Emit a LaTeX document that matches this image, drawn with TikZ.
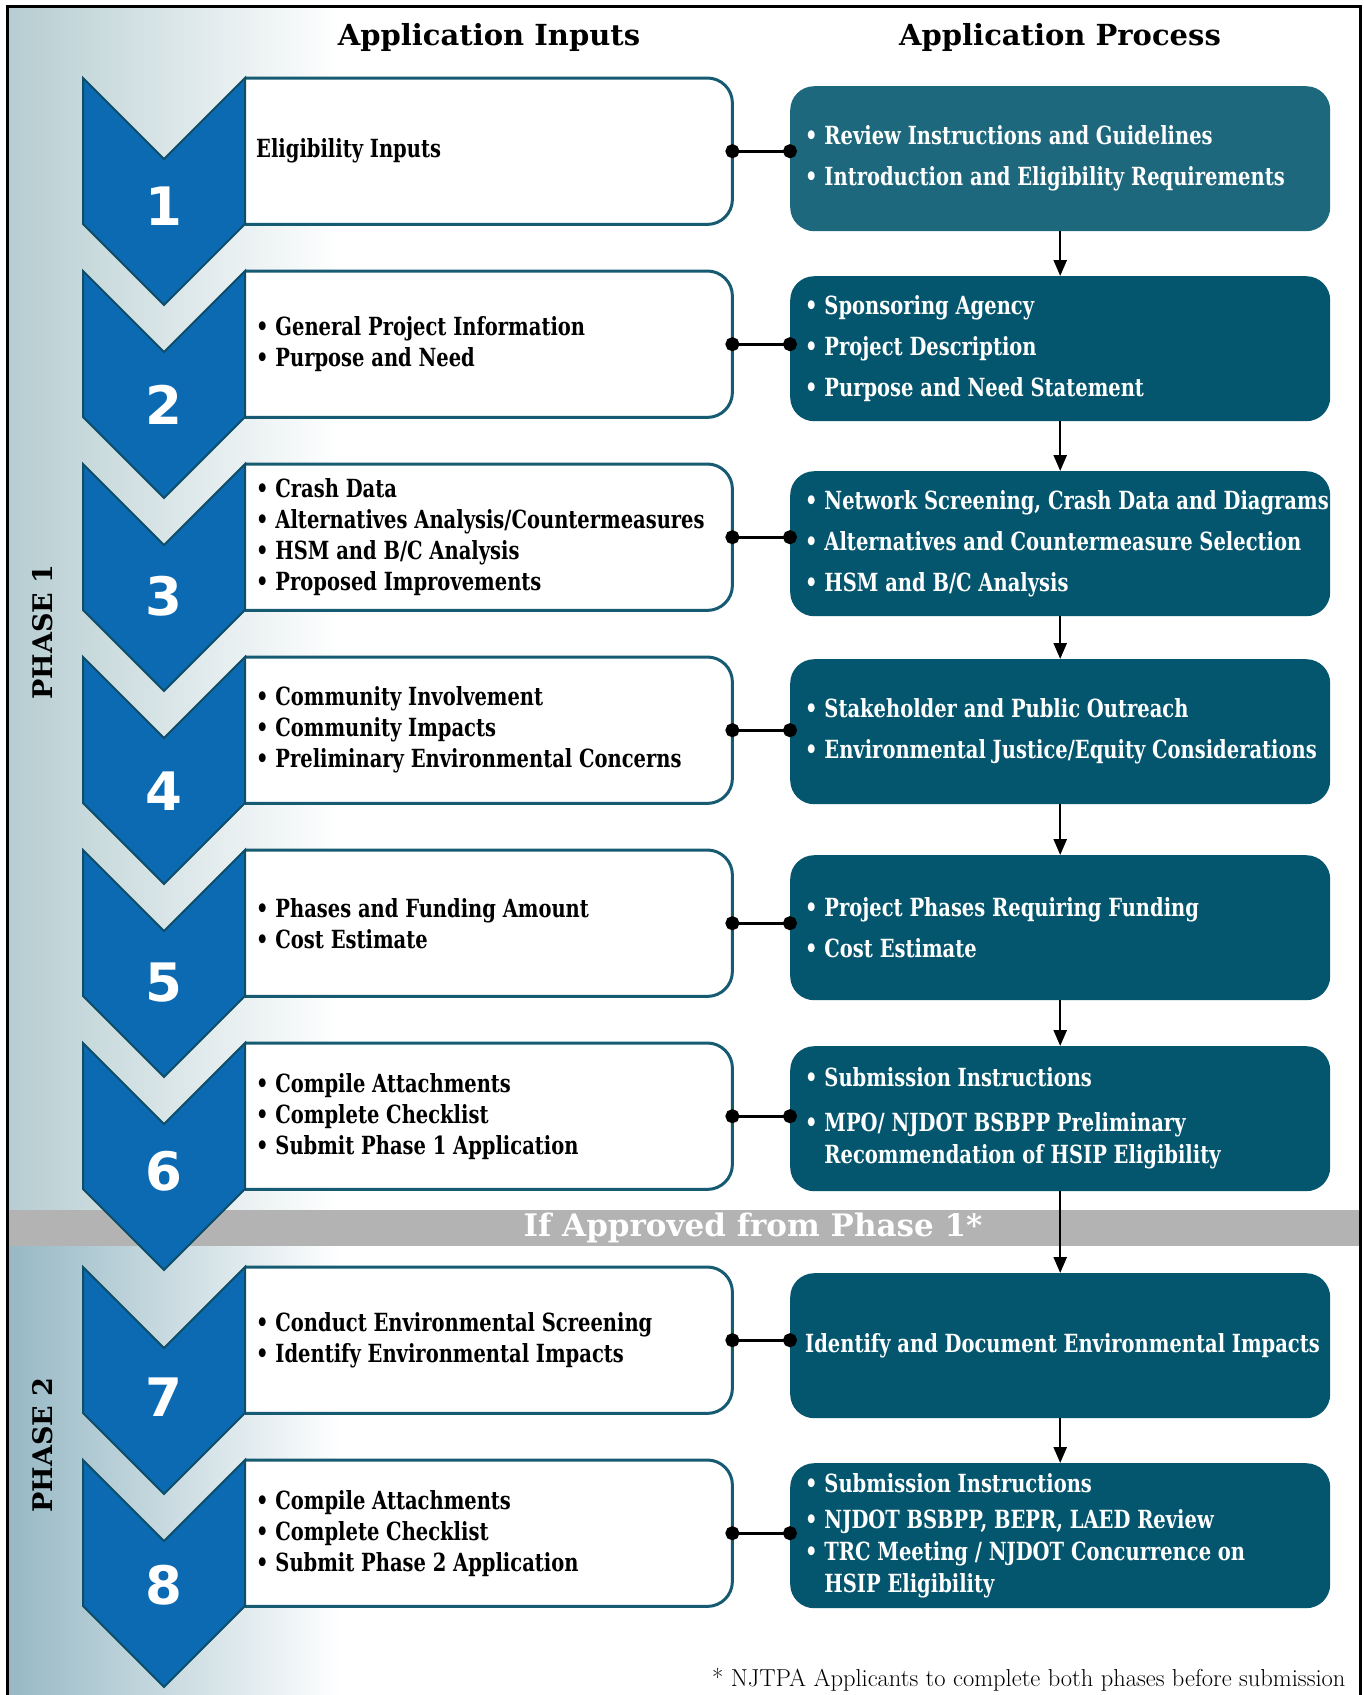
\documentclass[tikz,border=0pt]{standalone}
\usepackage{fontspec}
\usepackage{tikz}
\usetikzlibrary{arrows.meta}
\usetikzlibrary{positioning,calc}
\newfontfamily\slabfont{DejaVu Serif}[FakeStretch=0.78]
\newfontfamily\headfont{DejaVu Serif}
\newfontfamily\numfont{DejaVu Sans}
\usepackage{xcolor}
\definecolor{chevblue}{RGB}{11,106,178}
\definecolor{chevline}{RGB}{14,78,104}
\definecolor{boxline}{RGB}{22,91,113}
\definecolor{procfill}{RGB}{4,86,110}
\definecolor{proclight}{RGB}{30,104,125}
\definecolor{bandgray}{RGB}{179,179,179}
\definecolor{phaseone}{RGB}{182,205,209}
\definecolor{phasetwo}{RGB}{150,184,196}
\tikzset{
    inbox/.style={
        rectangle,
        minimum width=487pt,
        minimum height=146pt,
        inner sep=0pt,
        anchor=north west
    },
    inline/.style={
        draw=boxline,
        line width=3pt,
        fill=white,
        rounded corners=25pt
    },
    intext/.style={
        anchor=west,
        align=left,
        inner sep=0pt,
        font=\slabfont\bfseries\fontsize{25}{31}\selectfont
    },
    outbox/.style={
        rectangle,
        rounded corners=24pt,
        fill=procfill,
        minimum width=540pt,
        minimum height=145pt,
        inner sep=0pt,
        anchor=north west
    },
    outtext/.style={
        anchor=west,
        align=left,
        inner sep=0pt,
        text=white,
        font=\slabfont\bfseries\fontsize{25}{32}\selectfont
    },
    chevron/.style={
        fill=chevblue,
        draw=chevline,
        line width=2pt
    },
    stepnum/.style={
        text=white,
        font=\numfont\bfseries\fontsize{53}{53}\selectfont
    },
    link/.style={
        line width=3pt,
        {Circle[length=14pt]}-{Circle[length=14pt]},
        shorten <=-7pt,
        shorten >=-7pt
    },
    flow/.style={
        line width=2.5pt,
        -{Triangle[length=16pt, width=13pt]}
    },
    headtext/.style={
        font=\headfont\bfseries\fontsize{29}{29}\selectfont
    },
    phasetext/.style={
        rotate=90,
        font=\headfont\bfseries\fontsize{27}{27}\selectfont
    },
    bandtext/.style={
        text=white,
        font=\headfont\bfseries\fontsize{31}{31}\selectfont
    }
}
\newcommand{\wrapind}{\hphantom{\textbullet\ }}

\begin{document}
\begin{tikzpicture}[x=1pt, y=-1pt]
  \useasboundingbox (0,0) rectangle (1364,1695);

  % Background of the two phases
  \shade[left color=phaseone, right color=white] (7,6) rectangle (340,1210);
  \shade[left color=phasetwo, right color=white] (7,1246) rectangle (340,1695);
  \fill[bandgray] (7,1210) rectangle (1360,1246);
  \node[bandtext] (approved) at (753,1228) {If Approved from Phase 1*};
  \draw[line width=3pt] (7,1700) -- (7,6) -- (1360,6) -- (1360,1700);

  % Column titles
  \node[headtext] (inhead) at (489,37) {Application Inputs};
  \node[headtext] (outhead) at (1060,37) {Application Process};

  % Application inputs
  \node[inbox] (in1) at (245,78) {};
  \node[inbox] (in2) at (245,271) {};
  \node[inbox] (in3) at (245,464) {};
  \node[inbox] (in4) at (245,657) {};
  \node[inbox] (in5) at (245,850) {};
  \node[inbox] (in6) at (245,1043) {};
  \node[inbox] (in7) at (245,1267) {};
  \node[inbox] (in8) at (245,1460) {};
  \path[inline] (in1.north west) -- (in1.north east) -- (in1.south east) -- (in1.south west);
  \path[inline] (in2.north west) -- (in2.north east) -- (in2.south east) -- (in2.south west);
  \path[inline] (in3.north west) -- (in3.north east) -- (in3.south east) -- (in3.south west);
  \path[inline] (in4.north west) -- (in4.north east) -- (in4.south east) -- (in4.south west);
  \path[inline] (in5.north west) -- (in5.north east) -- (in5.south east) -- (in5.south west);
  \path[inline] (in6.north west) -- (in6.north east) -- (in6.south east) -- (in6.south west);
  \path[inline] (in7.north west) -- (in7.north east) -- (in7.south east) -- (in7.south west);
  \path[inline] (in8.north west) -- (in8.north east) -- (in8.south east) -- (in8.south west);

  \node[intext] (in1t) at ([xshift=11pt]in1.west) {Eligibility Inputs};
  \node[intext] (in2t) at ([xshift=11pt]in2.west) {\textbullet\ General Project Information\\\textbullet\ Purpose and Need};
  \node[intext] (in3t) at ([xshift=11pt]in3.west) {\textbullet\ Crash Data\\\textbullet\ Alternatives Analysis/Countermeasures\\\textbullet\ HSM and B/C Analysis\\\textbullet\ Proposed Improvements};
  \node[intext] (in4t) at ([xshift=11pt]in4.west) {\textbullet\ Community Involvement\\\textbullet\ Community Impacts\\\textbullet\ Preliminary Environmental Concerns};
  \node[intext] (in5t) at ([xshift=11pt]in5.west) {\textbullet\ Phases and Funding Amount\\\textbullet\ Cost Estimate};
  \node[intext] (in6t) at ([xshift=11pt]in6.west) {\textbullet\ Compile Attachments\\\textbullet\ Complete Checklist\\\textbullet\ Submit Phase 1 Application};
  \node[intext] (in7t) at ([xshift=11pt]in7.west) {\textbullet\ Conduct Environmental Screening\\\textbullet\ Identify Environmental Impacts};
  \node[intext] (in8t) at ([xshift=11pt]in8.west) {\textbullet\ Compile Attachments\\\textbullet\ Complete Checklist\\\textbullet\ Submit Phase 2 Application};

  % Step chevrons
  \draw[chevron] (83,78) -- (164,159) -- (245,78) -- (245,224) -- (164,305) -- (83,224) -- cycle;
  \draw[chevron] (83,271) -- (164,352) -- (245,271) -- (245,417) -- (164,498) -- (83,417) -- cycle;
  \draw[chevron] (83,464) -- (164,545) -- (245,464) -- (245,610) -- (164,691) -- (83,610) -- cycle;
  \draw[chevron] (83,657) -- (164,738) -- (245,657) -- (245,803) -- (164,884) -- (83,803) -- cycle;
  \draw[chevron] (83,850) -- (164,931) -- (245,850) -- (245,996) -- (164,1077) -- (83,996) -- cycle;
  \draw[chevron] (83,1043) -- (164,1124) -- (245,1043) -- (245,1189) -- (164,1270) -- (83,1189) -- cycle;
  \draw[chevron] (83,1267) -- (164,1348) -- (245,1267) -- (245,1413) -- (164,1494) -- (83,1413) -- cycle;
  \draw[chevron] (83,1460) -- (164,1541) -- (245,1460) -- (245,1606) -- (164,1687) -- (83,1606) -- cycle;
  \node[stepnum] (n1) at (164,206) {1};
  \node[stepnum] (n2) at (164,405) {2};
  \node[stepnum] (n3) at (164,596) {3};
  \node[stepnum] (n4) at (164,791) {4};
  \node[stepnum] (n5) at (164,983) {5};
  \node[stepnum] (n6) at (164,1171) {6};
  \node[stepnum] (n7) at (164,1397) {7};
  \node[stepnum] (n8) at (164,1585) {8};

  % Application process
  \node[outbox, fill=proclight] (out1) at (790,86) {};
  \node[outbox] (out2) at (790,276) {};
  \node[outbox] (out3) at (790,471) {};
  \node[outbox] (out4) at (790,659) {};
  \node[outbox] (out5) at (790,855) {};
  \node[outbox] (out6) at (790,1046) {};
  \node[outbox] (out7) at (790,1273) {};
  \node[outbox] (out8) at (790,1463) {};

  \node[outtext] (out1t) at ([xshift=15pt]out1.west) {\textbullet\ Review Instructions and Guidelines\\[9pt]\textbullet\ Introduction and Eligibility Requirements};
  \node[outtext] (out2t) at ([xshift=15pt]out2.west) {\textbullet\ Sponsoring Agency\\[9pt]\textbullet\ Project Description\\[9pt]\textbullet\ Purpose and Need Statement};
  \node[outtext] (out3t) at ([xshift=15pt]out3.west) {\textbullet\ Network Screening, Crash Data and Diagrams\\[9pt]\textbullet\ Alternatives and Countermeasure Selection\\[9pt]\textbullet\ HSM and B/C Analysis};
  \node[outtext] (out4t) at ([xshift=15pt]out4.west) {\textbullet\ Stakeholder and Public Outreach\\[9pt]\textbullet\ Environmental Justice/Equity Considerations};
  \node[outtext] (out5t) at ([xshift=15pt]out5.west) {\textbullet\ Project Phases Requiring Funding\\[9pt]\textbullet\ Cost Estimate};
  \node[outtext] (out6t) at ([xshift=15pt]out6.west) {\textbullet\ Submission Instructions\\[13pt]\textbullet\ MPO/ NJDOT BSBPP Preliminary\\\wrapind Recommendation of HSIP Eligibility};
  \node[outtext] (out7t) at ([xshift=15pt]out7.west) {Identify and Document Environmental Impacts};
  \node[outtext] (out8t) at ([xshift=15pt]out8.west) {\textbullet\ Submission Instructions\\[4pt]\textbullet\ NJDOT BSBPP, BEPR, LAED Review\\\textbullet\ TRC Meeting / NJDOT Concurrence on\\\wrapind HSIP Eligibility};

  % Inputs tied to process steps
  \draw[link] (in1.east) -- (in1.east -| out1.west);
  \draw[link] (in2.east) -- (in2.east -| out2.west);
  \draw[link] (in3.east) -- (in3.east -| out3.west);
  \draw[link] (in4.east) -- (in4.east -| out4.west);
  \draw[link] (in5.east) -- (in5.east -| out5.west);
  \draw[link] (in6.east) -- (in6.east -| out6.west);
  \draw[link] (in7.east) -- (in7.east -| out7.west);
  \draw[link] (in8.east) -- (in8.east -| out8.west);

  % Process order
  \draw[flow] (out1.south) -- (out2.north);
  \draw[flow] (out2.south) -- (out3.north);
  \draw[flow] (out3.south) -- (out4.north);
  \draw[flow] (out4.south) -- (out5.north);
  \draw[flow] (out5.south) -- (out6.north);
  \draw[flow] (out6.south) -- (out7.north);
  \draw[flow] (out7.south) -- (out8.north);

  % Phase labels and note
  \node[phasetext] (phase1) at (43,632) {PHASE 1};
  \node[phasetext] (phase2) at (43,1445) {PHASE 2};
  \node[anchor=east, font=\fontsize{24.5}{24.5}\selectfont] (note) at (1349,1680) {* NJTPA Applicants to complete both phases before submission};
\end{tikzpicture}
\end{document}
